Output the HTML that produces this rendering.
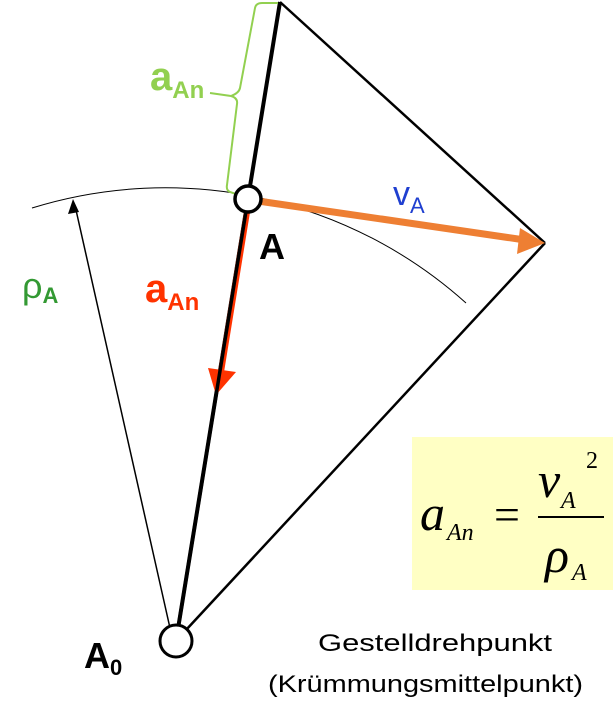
<!DOCTYPE html>
<html><head><meta charset="utf-8"><style>
html,body{margin:0;padding:0;background:#fff;}
svg{display:block;}
</style></head><body>
<svg width="615" height="715" viewBox="0 0 615 715" xmlns="http://www.w3.org/2000/svg" font-family="Liberation Sans, sans-serif">
<rect x="412" y="437" width="201" height="153" fill="#ffffc4"/>
<path d="M32,208 A450,450 0 0 1 466,303" fill="none" stroke="#000" stroke-width="1"/>
<line x1="176" y1="641" x2="280" y2="2" stroke="#000" stroke-width="4"/>
<line x1="280" y1="2" x2="545" y2="243" stroke="#000" stroke-width="2.5"/>
<line x1="545" y1="243" x2="186" y2="630" stroke="#000" stroke-width="2.5"/>
<line x1="170" y1="628" x2="76" y2="210" stroke="#000" stroke-width="1.5"/>
<polygon points="73,199 68,214 79,212" fill="#000"/>
<line x1="247" y1="212" x2="221" y2="372" stroke="#ff3300" stroke-width="6"/>
<polygon points="208,368 236,372 216,395" fill="#ff3300"/>
<line x1="176" y1="641" x2="248" y2="199" stroke="#000" stroke-width="3.5"/>
<line x1="258" y1="201" x2="525" y2="240" stroke="#ee7f33" stroke-width="7"/>
<polygon points="520,228 545,243 517,254" fill="#ee7f33"/>
<path d="M250,199 L230,192 Q226,190 227,185 L237,104 Q238,98 231,96 L210,93 M231,96 Q239,93 240,88 L255,8 Q256,3 262,3 L278,3" fill="none" stroke="#92d050" stroke-width="2"/>
<circle cx="248" cy="199" r="13" fill="#fff" stroke="#000" stroke-width="3.5"/>
<circle cx="176" cy="641" r="16" fill="#fff" stroke="#000" stroke-width="3"/>
<text x="150" y="90" fill="#92d050" font-size="40" font-weight="bold">a<tspan font-size="24" dy="8">An</tspan></text>
<text x="393" y="205" fill="#1f3fd0" font-size="34">v<tspan font-size="22" dy="8">A</tspan></text>
<text x="259" y="259" fill="#000" font-size="36" font-weight="bold">A</text>
<text x="22" y="298" fill="#339933" font-size="36">ρ<tspan font-size="22" dy="5" font-weight="bold">A</tspan></text>
<text x="145" y="302" fill="#ff3300" font-size="40" font-weight="bold">a<tspan font-size="24" dy="8">An</tspan></text>
<text x="84" y="668" fill="#000" font-size="36" font-weight="bold">A<tspan font-size="22" dy="7">0</tspan></text>
<text x="318" y="651" fill="#000" font-size="24" textLength="234" lengthAdjust="spacingAndGlyphs">Gestelldrehpunkt</text>
<text x="268" y="692" fill="#000" font-size="24" textLength="315" lengthAdjust="spacingAndGlyphs">(Krümmungsmittelpunkt)</text>
<g font-family="Liberation Serif, serif" font-style="italic" fill="#000">
<text x="420" y="530" font-size="50">a</text>
<text x="447" y="540" font-size="24">An</text>
<text x="494" y="530" font-size="46" font-style="normal">=</text>
<text x="538" y="497" font-size="50">v</text>
<text x="561" y="508" font-size="24">A</text>
<text x="586" y="468" font-size="24" font-style="normal">2</text>
<line x1="538" y1="517" x2="604" y2="517" stroke="#000" stroke-width="2"/>
<text x="545" y="572" font-size="50">ρ</text>
<text x="572" y="580" font-size="24">A</text>
</g>
</svg>
</body></html>
